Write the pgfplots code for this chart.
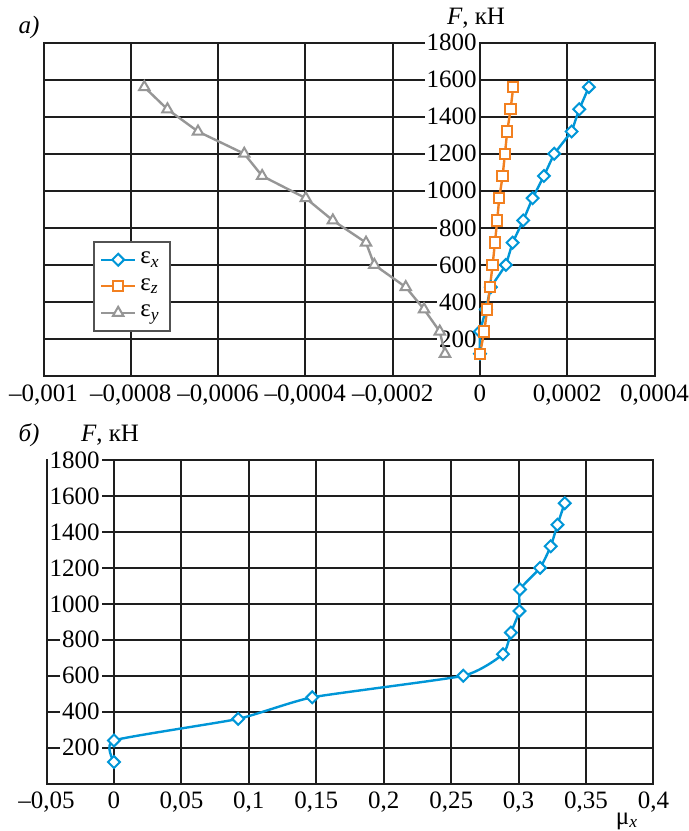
\documentclass[border=0pt]{standalone}
\usepackage{fontspec}
\setmainfont{Liberation Serif}
\usepackage{pgfplots}
\pgfplotsset{compat=1.18}
\definecolor{cblue}{RGB}{0,150,215}
\definecolor{corange}{RGB}{242,128,32}
\definecolor{cgray}{RGB}{150,150,150}
\definecolor{cgrid}{RGB}{30,30,30}
\pgfplotsset{
  mystyle/.style={
    scale only axis, set layers,
    scaled x ticks=false, scaled y ticks=false,
    axis line style={cgrid, line width=1pt},
    grid=major,
    major grid style={cgrid, line width=1pt},
    major tick length=0pt,
    tick style={draw=none},
    xticklabel style={inner sep=2pt, anchor=north, yshift=-2pt},
    yticklabel style={anchor=east, inner sep=1pt, fill=white},
  }
}
\begin{document}
\fontsize{12.5}{14}\selectfont
\begin{tikzpicture}
\begin{axis}[mystyle,
  at={(21.75pt,-188pt)}, anchor=south west,
  width=305.5pt, height=166.7pt,
  xmin=-0.001, xmax=0.0004, ymin=0, ymax=1800,
  xtick={-0.001,-0.0008,-0.0006,-0.0004,-0.0002,0,0.0002,0.0004},
  xticklabels={{–0,001},{–0,0008},{–0,0006},{–0,0004},{–0,0002},{0},{0,0002},{0,0004}},
  ytick={200,400,600,800,1000,1200,1400,1600,1800},
  yticklabels={200,400,600,800,1000,1200,1400,1600,1800},
  yticklabel style={xshift=217.75pt},
  legend style={at={(0.081,0.405)}, anchor=north west, draw=cgray!55!black, line width=1pt, fill=white, inner xsep=3pt, inner ysep=3pt, row sep=1.5pt, font=\fontsize{12.5}{14}\selectfont},
  legend cell align=left,
  legend image code/.code={\draw[mark repeat=2,mark phase=2,#1] plot coordinates {(0pt,0pt) (8.5pt,0pt) (17pt,0pt)};},
]
\addplot[cblue, line width=1.2pt, mark=square*, mark size=2.1pt, mark options={rotate=45, fill=white, solid, line width=1pt}] table {
x y
0 120
0 240
0.0000137 360
0.000025 480
0.0000596 600
0.0000749 720
0.0000992 840
0.0001207 960
0.0001466 1080
0.0001702 1200
0.0002101 1320
0.0002275 1440
0.0002497 1560
};
\addlegendentry{ε\textsubscript{\textit{x}}}
\addplot[corange, line width=1.2pt, mark=square*, mark size=2.6pt, mark options={fill=white, solid, line width=1pt}] table {
x y
0 120
0.0000099 240
0.0000167 360
0.0000229 480
0.0000291 600
0.0000344 720
0.0000396 840
0.0000442 960
0.000052 1080
0.0000573 1200
0.0000625 1320
0.0000703 1440
0.0000763 1560
};
\addlegendentry{ε\textsubscript{\textit{z}}}
\addplot[cgray, line width=1.2pt, mark=triangle*, mark size=3pt, mark options={fill=white, solid, line width=1pt}] table {
x y
-0.000080 120
-0.000092 240
-0.000128 360
-0.000170 480
-0.000242 600
-0.000261 720
-0.000337 840
-0.000399 960
-0.000499 1080
-0.000540 1200
-0.000646 1320
-0.000716 1440
-0.000769 1560
};
\addlegendentry{ε\textsubscript{\textit{y}}}
\end{axis}
\begin{axis}[mystyle,
  at={(23.25pt,-391.8pt)}, anchor=south west,
  width=303.5pt, height=161.8pt,
  xmin=-0.05, xmax=0.4, ymin=0, ymax=1800,
  xtick={-0.05,0,0.05,0.1,0.15,0.2,0.25,0.3,0.35,0.4},
  xticklabels={{–0,05},{0},{0,05},{0,1},{0,15},{0,2},{0,25},{0,3},{0,35},{0,4}},
  ytick={200,400,600,800,1000,1200,1400,1600,1800},
  yticklabels={200,400,600,800,1000,1200,1400,1600,1800},
  yticklabel style={xshift=27.75pt},
]
\addplot[cblue, line width=1.2pt, smooth, tension=0.3, mark=square*, mark size=2.1pt, mark options={rotate=45, fill=white, solid, line width=1pt}] table {
x y
0 120
0 240
0.0921 360
0.147 480
0.259 600
0.2884 720
0.2943 840
0.3006 960
0.3010 1080
0.3159 1200
0.3238 1320
0.3288 1440
0.3342 1560
};
\end{axis}
\node[font=\itshape] at (14.5pt,-13.5pt) {а)};
\node at (238pt,-9pt) {\textit{F}, кН};
\node[font=\itshape] at (14.5pt,-217.5pt) {б)};
\node at (55pt,-217.5pt) {\textit{F}, кН};
\node at (313.5pt,-410.5pt) {μ\textsubscript{\textit{x}}};
\pgfresetboundingbox
\useasboundingbox (0,0) rectangle (344.5pt,-415.5pt);
\end{tikzpicture}
\end{document}
